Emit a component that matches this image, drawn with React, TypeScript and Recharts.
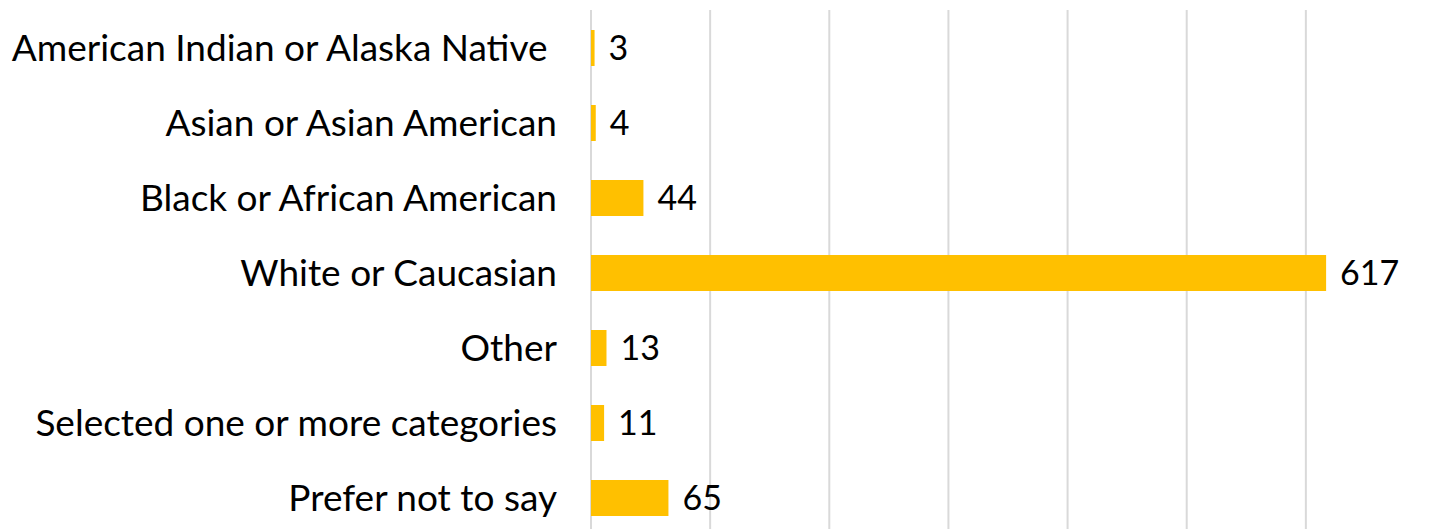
import React from 'react';
import { BarChart, Bar, XAxis, YAxis, CartesianGrid, LabelList } from 'recharts';

const categories = [
  'American Indian or Alaska Native ',
  'Asian or Asian American',
  'Black or African American',
  'White or Caucasian',
  'Other',
  'Selected one or more categories',
  'Prefer not to say',
];
const counts = [3, 4, 44, 617, 13, 11, 65];
const xTicks = [0, 100, 200, 300, 400, 500, 600, 700];

const data = categories.map((name, i) => ({ name, value: counts[i] }));

const FONT = 'Lato, "Open Sans", sans-serif';

const App: React.FC = () => {
  return (
    <div style={{ width: 1424, height: 527 }}>
      <BarChart
        width={1424}
        height={527}
        data={data}
        layout="vertical"
        margin={{ top: 2, right: 7, bottom: 0, left: 0 }}
      >
        <CartesianGrid horizontal={false} stroke="#D9D9D9" strokeWidth={2} />
        <XAxis type="number" domain={[0, 700]} ticks={xTicks} hide />
        <YAxis
          type="category"
          dataKey="name"
          width={583}
          axisLine={false}
          tickLine={false}
          tickMargin={28}
          tick={{ fill: '#000', fontSize: 37, fontFamily: FONT, style: { whiteSpace: 'pre' } }}
        />
        <Bar dataKey="value" fill="#FFC000" barSize={36} isAnimationActive={false}>
          <LabelList
            dataKey="value"
            position="right"
            offset={14}
            fill="#000"
            fontSize={34}
            fontFamily={FONT}
          />
        </Bar>
      </BarChart>
    </div>
  );
};

export default App;
